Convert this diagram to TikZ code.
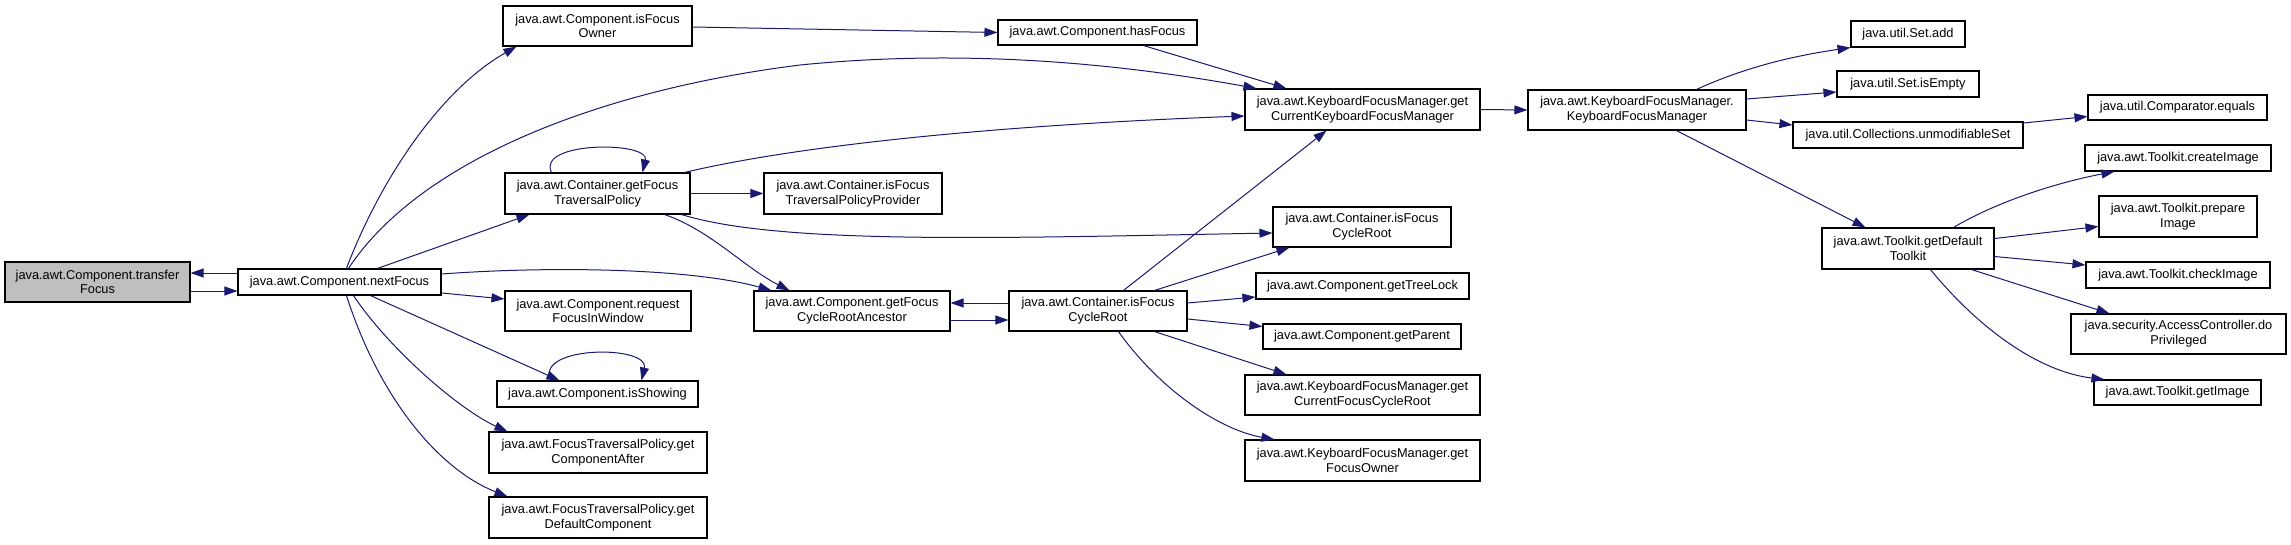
\documentclass[tikz,border=0pt]{standalone}
\usepackage{fontspec}
\setmainfont{Liberation Sans}
\usetikzlibrary{arrows.meta,calc}
\definecolor{midnight}{RGB}{25,25,112}
\definecolor{rootgray}{RGB}{191,191,191}
\newcommand{\dbox}[7][]{\node[box,#1,minimum width={(#5)-(#3)},minimum height={(#6)-(#4)}] (#2) at ({((#3)+(#5))/2},{((#4)+(#6))/2}) {#7};}
\tikzset{
  box/.style={draw=black,line width=1.1pt,fill=white,align=center,inner sep=0pt,font=\fontsize{12.8}{14.7}\selectfont},
  rootbox/.style={fill=rootgray},
  edge/.style={draw=midnight,line width=1pt,-{Triangle[length=13pt,width=9pt]}}
}
\begin{document}
\begin{tikzpicture}[x=1pt,y=-1pt]
\useasboundingbox (0,0) rectangle (2291,544);
% nodes
\dbox[rootbox]{tf}{5}{262}{190}{302}{java.awt.Component.transfer\\Focus}
\dbox{nf}{238}{269}{441}{295}{java.awt.Component.nextFocus}
\dbox{ifo}{503}{6}{692}{46}{java.awt.Component.isFocus\\Owner}
\dbox{hf}{998}{20}{1197}{45}{java.awt.Component.hasFocus}
\dbox{gftp}{505}{173}{690}{214}{java.awt.Container.getFocus\\TraversalPolicy}
\dbox{iftpp}{764}{173}{942}{214}{java.awt.Container.isFocus\\TraversalPolicyProvider}
\dbox{kgc}{1245}{89}{1480}{130}{java.awt.KeyboardFocusManager.get\\CurrentKeyboardFocusManager}
\dbox{rfiw}{505}{291}{691}{331}{java.awt.Component.request\\FocusInWindow}
\dbox{ish}{497}{381}{698}{407}{java.awt.Component.isShowing}
\dbox{gca}{489}{432}{707}{473}{java.awt.FocusTraversalPolicy.get\\ComponentAfter}
\dbox{gdc}{489}{497}{707}{538}{java.awt.FocusTraversalPolicy.get\\DefaultComponent}
\dbox{gfcra}{754}{291}{950}{331}{java.awt.Component.getFocus\\CycleRootAncestor}
\dbox{ifcr}{1009}{291}{1187}{331}{java.awt.Container.isFocus\\CycleRoot}
\dbox{ifcrb}{1273}{207}{1451}{247}{java.awt.Container.isFocus\\CycleRoot}
\dbox{gtl}{1256}{273}{1469}{299}{java.awt.Component.getTreeLock}
\dbox{gp}{1263}{324}{1461}{349}{java.awt.Component.getParent}
\dbox{gcfcr}{1245}{375}{1480}{415}{java.awt.KeyboardFocusManager.get\\CurrentFocusCycleRoot}
\dbox{gfo}{1245}{440}{1480}{481}{java.awt.KeyboardFocusManager.get\\FocusOwner}
\dbox{kfm}{1528}{90}{1746}{130}{java.awt.KeyboardFocusManager.\\KeyboardFocusManager}
\dbox{sa}{1851}{21}{1965}{47}{java.util.Set.add}
\dbox{sie}{1837}{71}{1979}{97}{java.util.Set.isEmpty}
\dbox{cus}{1793}{122}{2023}{148}{java.util.Collections.unmodifiableSet}
\dbox{ce}{2088}{95}{2267}{120}{java.util.Comparator.equals}
\dbox{ci}{2085}{145}{2271}{171}{java.awt.Toolkit.createImage}
\dbox{pi}{2099}{196}{2257}{237}{java.awt.Toolkit.prepare\\Image}
\dbox{gdt}{1822}{228}{1994}{269}{java.awt.Toolkit.getDefault\\Toolkit}
\dbox{chi}{2086}{262}{2270}{288}{java.awt.Toolkit.checkImage}
\dbox{dp}{2071}{314}{2286}{354}{java.security.AccessController.do\\Privileged}
\dbox{gi}{2094}{380}{2261}{405}{java.awt.Toolkit.getImage}
% edges
\draw[edge] ($(nf.west)+(0,-9)$) -- ($(tf.east)+(0,-9)$);
\draw[edge] ($(tf.east)+(0,9)$) -- ($(nf.west)+(0,9)$);
\draw[edge] ($(nf.north west)+(109,0)$) .. controls (380,180) and (440,90) .. ($(ifo.south west)+(14,0)$);
\draw[edge] ($(nf.north west)+(111,0)$) .. controls (420,160) and (600,90) .. (800,65) .. controls (950,50) and (1100,60) .. ($(kgc.north west)+(12,0)$);
\draw[edge] ($(nf.north west)+(140,0)$) -- ($(gftp.south west)+(25,0)$);
\draw[edge] ($(nf.east)+(0,-8)$) .. controls (550,266) and (690,268) .. ($(gfcra.north west)+(18,0)$);
\draw[edge] ($(nf.east)+(0,11)$) -- ($(rfiw.west)+(0,-12)$);
\draw[edge] ($(nf.south west)+(133,0)$) -- ($(ish.north west)+(63,0)$);
\draw[edge] ($(nf.south west)+(116,0)$) .. controls (390,350) and (460,410) .. ($(gca.north west)+(19,0)$);
\draw[edge] ($(nf.south west)+(109,0)$) .. controls (380,400) and (440,470) .. ($(gdc.north west)+(19,0)$);
\draw[edge] ($(ish.north west)+(54,0)$) .. controls (535,345) and (650,345) .. ($(ish.north west)+(145,0)$);
\draw[edge] ($(ifo.east)+(0,1)$) -- (hf.west);
\draw[edge] ($(hf.south west)+(146,0)$) -- ($(kgc.north west)+(42,0)$);
\draw[edge] ($(gftp.north west)+(47,0)$) .. controls (536,141) and (650,141) .. ($(gftp.north west)+(138,0)$);
\draw[edge] ($(gftp.north east)+(-6,0)$) .. controls (800,145) and (1000,125) .. ($(kgc.west)+(0,6.5)$);
\draw[edge] (gftp.east) -- (iftpp.west);
\draw[edge] ($(gftp.south east)+(-9,0)$) .. controls (780,245) and (1000,238) .. ($(ifcrb.west)+(0,6)$);
\draw[edge] ($(gftp.south east)+(-26,0)$) .. controls (710,230) and (745,268) .. ($(gfcra.north west)+(36,0)$);
\draw[edge] ($(ifcr.west)+(0,-8)$) -- ($(gfcra.east)+(0,-8)$);
\draw[edge] ($(gfcra.east)+(0,9)$) -- ($(ifcr.west)+(0,9)$);
\draw[edge] ($(ifcr.north west)+(115,0)$) -- ($(kgc.south west)+(82,0)$);
\draw[edge] ($(ifcr.north west)+(146,0)$) -- ($(ifcrb.south west)+(17,0)$);
\draw[edge] ($(ifcr.east)+(0,-8)$) -- ($(gtl.west)+(0,11)$);
\draw[edge] ($(ifcr.east)+(0,8)$) -- ($(gp.west)+(0,-10)$);
\draw[edge] ($(ifcr.south west)+(146,0)$) -- ($(gcfcr.north west)+(42,0)$);
\draw[edge] ($(ifcr.south west)+(110,0)$) .. controls (1160,390) and (1220,430) .. ($(gfo.north west)+(30,0)$);
\draw[edge] (kgc.east) -- (kfm.west);
\draw[edge] ($(kfm.north west)+(169,0)$) .. controls (1750,65) and (1800,55) .. (sa.south west);
\draw[edge] ($(kfm.east)+(0,-11)$) -- ($(sie.west)+(0,8)$);
\draw[edge] ($(kfm.east)+(0,10)$) -- ($(cus.west)+(0,-10)$);
\draw[edge] ($(kfm.south west)+(149,0)$) -- ($(gdt.north west)+(44,0)$);
\draw[edge] ($(cus.east)+(0,-12)$) -- ($(ce.west)+(0,9)$);
\draw[edge] ($(gdt.north west)+(132,0)$) .. controls (2000,200) and (2060,182) .. ($(ci.south west)+(30,0)$);
\draw[edge] ($(gdt.east)+(0,-10)$) -- ($(pi.west)+(0,10)$);
\draw[edge] ($(gdt.east)+(0,8)$) -- ($(chi.west)+(0,-10)$);
\draw[edge] ($(gdt.south west)+(150,0)$) -- ($(dp.north west)+(39,0)$);
\draw[edge] ($(gdt.south west)+(109,0)$) .. controls (1980,330) and (2040,372) .. ($(gi.north west)+(11,0)$);
\end{tikzpicture}
\end{document}
